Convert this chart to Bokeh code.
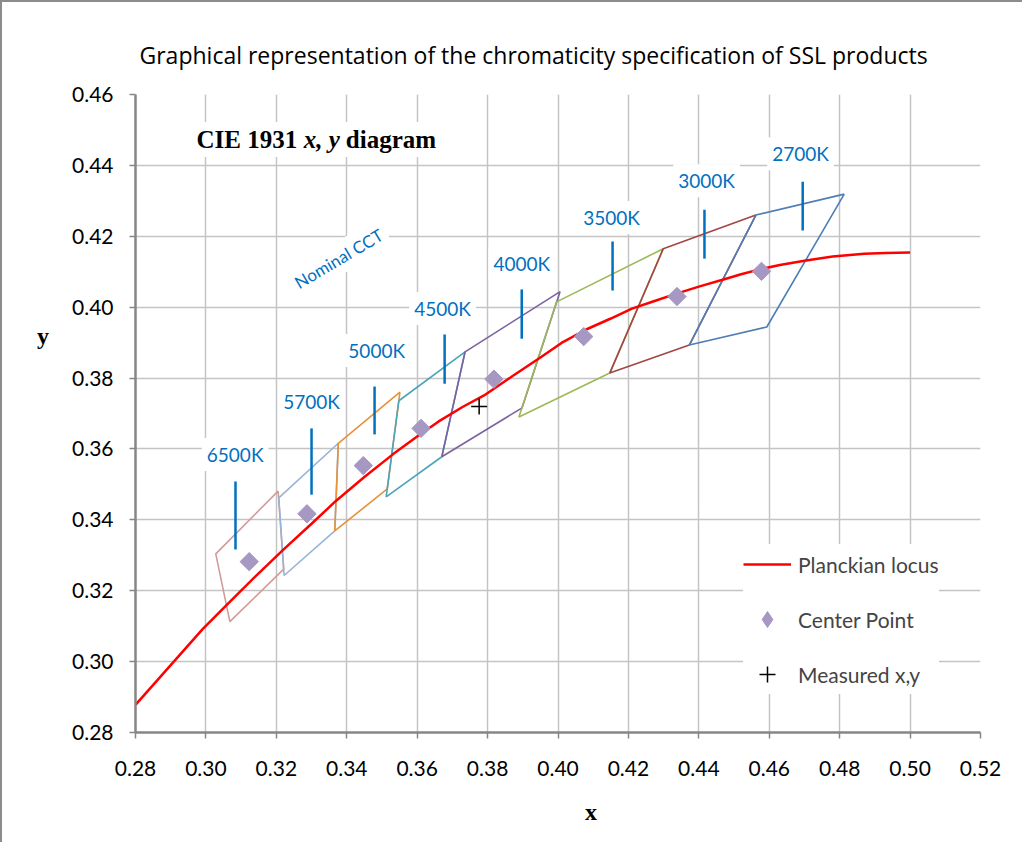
from bokeh.plotting import figure
from bokeh.models import Range1d, FixedTicker, PrintfTickFormatter, Label, LegendItem, Legend
from bokeh.embed import file_html
from bokeh.resources import INLINE

# ---------------- data ----------------
x_ticks = [0.28, 0.30, 0.32, 0.34, 0.36, 0.38, 0.40, 0.42, 0.44, 0.46, 0.48, 0.50, 0.52]
y_ticks = [0.28, 0.30, 0.32, 0.34, 0.36, 0.38, 0.40, 0.42, 0.44, 0.46]

cct_names = ["6500K", "5700K", "5000K", "4500K", "4000K", "3500K", "3000K", "2700K"]
center_x = [0.3123, 0.3287, 0.3447, 0.3611, 0.3818, 0.4073, 0.4338, 0.4578]
center_y = [0.3282, 0.3417, 0.3553, 0.3658, 0.3797, 0.3917, 0.4030, 0.4101]

quad_xs = [
    [0.3205, 0.3028, 0.3068, 0.3221],
    [0.3376, 0.3207, 0.3222, 0.3366],
    [0.3551, 0.3376, 0.3366, 0.3515],
    [0.3736, 0.3548, 0.3512, 0.3670],
    [0.4006, 0.3736, 0.3670, 0.3898],
    [0.4299, 0.3996, 0.3889, 0.4147],
    [0.4562, 0.4299, 0.4147, 0.4373],
    [0.4813, 0.4562, 0.4373, 0.4593],
]
quad_ys = [
    [0.3481, 0.3304, 0.3113, 0.3261],
    [0.3616, 0.3462, 0.3243, 0.3369],
    [0.3760, 0.3616, 0.3369, 0.3487],
    [0.3874, 0.3736, 0.3465, 0.3578],
    [0.4044, 0.3874, 0.3578, 0.3716],
    [0.4165, 0.4015, 0.3690, 0.3814],
    [0.4260, 0.4165, 0.3814, 0.3893],
    [0.4319, 0.4260, 0.3893, 0.3944],
]
quad_colors = ["#D29B9A", "#97B3D6", "#E8913A", "#4AA5BB", "#7C619D", "#9BB958", "#A34542", "#4F7DB5"]

marker_x = [0.3084, 0.3300, 0.3479, 0.3678, 0.3897, 0.4155, 0.4416, 0.4695]
marker_y0 = [0.3316, 0.3471, 0.3641, 0.3784, 0.3911, 0.4047, 0.4137, 0.4216]
marker_y1 = [0.3508, 0.3658, 0.3776, 0.3923, 0.4050, 0.4185, 0.4275, 0.4354]

label_x = [0.3083, 0.3300, 0.3485, 0.3672, 0.3897, 0.4152, 0.4422, 0.4689]
label_y = [0.3584, 0.3734, 0.3878, 0.3996, 0.4123, 0.4253, 0.4357, 0.4433]

locus_x = [0.280, 0.290, 0.299, 0.306, 0.314, 0.322, 0.330, 0.337, 0.345, 0.353, 0.360, 0.366,
           0.373, 0.379, 0.387, 0.395, 0.401, 0.408, 0.415, 0.421, 0.427, 0.433, 0.440,
           0.447, 0.452, 0.457, 0.463, 0.470, 0.478, 0.487, 0.493, 0.500]
locus_y = [0.2878, 0.2990, 0.3091, 0.3161, 0.3240, 0.3316, 0.3389, 0.3454, 0.3521, 0.3584, 0.3635, 0.3677,
           0.3719, 0.3751, 0.3805, 0.3858, 0.3899, 0.3937, 0.3968, 0.3996, 0.4016, 0.4036, 0.4058,
           0.4078, 0.4093, 0.4106, 0.4119, 0.4131, 0.4143, 0.4151, 0.4153, 0.4154]

measured_x = [0.3776]
measured_y = [0.3720]

# ---------------- figure ----------------
FONT = "Lato"
SERIF = "Liberation Serif"
NB = "\u00a0"
p = figure(width=1022, height=842,
           x_range=Range1d(0.28, 0.52), y_range=Range1d(0.28, 0.46),
           output_backend="svg", toolbar_location=None,
           min_border_left=133, min_border_right=44, min_border_top=92, min_border_bottom=112,
           title="Graphical representation of the chromaticity specification of SSL products")
p.styles = {"border-left": "2px solid #8c8c8c", "border-top": "2px solid #8c8c8c"}
p.outline_line_color = None
p.background_fill_color = "white"
p.border_fill_color = "white"

p.title.text_font = "Open Sans"
p.title.text_font_size = "23px"
p.title.text_font_style = "normal"
p.title.text_color = "black"
p.title.align = "left"
p.title.offset = 4
p.title.standoff = 47

for ax, ticks in ((p.xaxis[0], x_ticks), (p.yaxis[0], y_ticks)):
    ax.ticker = FixedTicker(ticks=ticks)
    ax.formatter = PrintfTickFormatter(format="%.2f")
    ax.axis_line_color = "#868686"
    ax.axis_line_width = 2.5
    ax.major_tick_line_color = "#868686"
    ax.major_tick_line_width = 1.5
    ax.major_tick_out = 6
    ax.major_tick_in = 0
    ax.minor_tick_line_color = None
    ax.major_label_text_font = FONT
    ax.major_label_text_font_size = "21px"
    ax.major_label_text_color = "black"
    ax.axis_label_text_font = SERIF
    ax.axis_label_text_font_size = "24px"
    ax.axis_label_text_font_style = "bold"
    ax.axis_label_text_color = "black"
p.xaxis.major_label_standoff = 22
p.yaxis.major_label_standoff = 16
# leading non-breaking spaces shift the centred "x" right, trailing blank lines lift the "y"
p.xaxis.axis_label = NB * 11 + "x"
p.yaxis.axis_label = "y" + ("\n" + NB) * 5
p.xaxis.axis_label_standoff = 20
p.yaxis.axis_label_standoff = 20
try:
    p.yaxis[0].axis_label_orientation = "horizontal"
except Exception:
    pass

p.xgrid.ticker = FixedTicker(ticks=x_ticks)
p.ygrid.ticker = FixedTicker(ticks=y_ticks)
for g in (p.xgrid[0], p.ygrid[0]):
    g.grid_line_color = "#C4C4C4"
    g.grid_line_width = 1.5

# quadrangles
closed_xs = [q + [q[0]] for q in quad_xs]
closed_ys = [q + [q[0]] for q in quad_ys]
p.multi_line(xs=closed_xs, ys=closed_ys, line_color=quad_colors, line_width=1.6)

# Planckian locus
r_locus = p.line(locus_x, locus_y, line_color="#FF0000", line_width=2.5)

# centre points: a diamond proxy (used by the legend) hidden under 45-degree squares
r_center_leg = p.scatter(center_x, center_y, marker="diamond", size=12,
                         fill_color="#A698C2", line_color="#A698C2")
p.scatter(center_x, center_y, marker="square", angle=45, angle_units="deg", size=13,
          fill_color="#A698C2", line_color="#A698C2")

# measured
r_meas = p.scatter(measured_x, measured_y, marker="cross", size=16, line_color="black",
                   line_width=1.5)

# CCT marker ticks
p.segment(x0=marker_x, y0=marker_y0, x1=marker_x, y1=marker_y1, line_color="#0070C0", line_width=2.5)

# CCT labels
for name, lx, ly in zip(cct_names, label_x, label_y):
    p.add_layout(Label(x=lx, y=ly, text=name, text_font=FONT, text_font_size="19px",
                       text_color="#0070C0", text_align="center", text_baseline="middle",
                       background_fill_color="white", padding=5))

p.add_layout(Label(x=0.3377, y=0.4137, text="Nominal CCT", angle=30.5, angle_units="deg",
                   text_font=FONT, text_font_size="17px", text_color="#0070C0",
                   text_align="center", text_baseline="middle",
                   background_fill_color="white", padding=5))

# CIE label (mixed styles)
p.add_layout(Label(x=0.2962, y=0.4473, text="CIE 1931", text_font=SERIF, text_font_size="25px",
                   text_font_style="bold", text_color="black", text_baseline="alphabetic",
                   background_fill_color="white", padding=4))
p.add_layout(Label(x=0.3278, y=0.4473, text="x, y", text_font=SERIF, text_font_size="25px",
                   text_font_style="bold italic", text_color="black", text_baseline="alphabetic"))
p.add_layout(Label(x=0.3386, y=0.4473, text="diagram", text_font=SERIF, text_font_size="25px",
                   text_font_style="bold", text_color="black", text_baseline="alphabetic",
                   background_fill_color="white", padding=4))

# legend
lg = Legend(items=[LegendItem(label="Planckian locus", renderers=[r_locus]),
                   LegendItem(label="Center Point", renderers=[r_center_leg]),
                   LegendItem(label="Measured x,y", renderers=[r_meas])])
lg.location = (608, 38)
lg.margin = 0
lg.padding = 10
lg.spacing = 15
lg.label_height = 40
lg.glyph_height = 40
lg.glyph_width = 48
lg.label_standoff = 7
lg.label_text_font = FONT
lg.label_text_font_size = "21px"
lg.border_line_color = None
lg.background_fill_color = "white"
lg.background_fill_alpha = 1.0
p.add_layout(lg, "center")

open("out.html", "w").write(file_html(p, INLINE))
